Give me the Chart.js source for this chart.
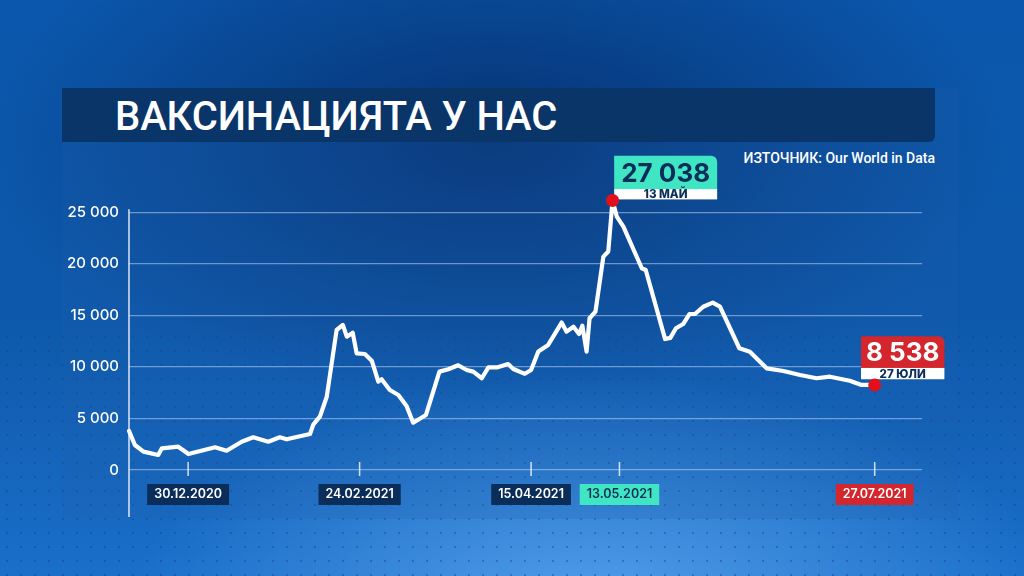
<!DOCTYPE html>
<html lang="bg">
<head>
<meta charset="utf-8">
<title>Ваксинацията у нас</title>
<script src="https://cdn.jsdelivr.net/npm/chart.js@4.4.0/dist/chart.umd.min.js"></script>
<style>
  html, body {
    margin: 0;
    padding: 0;
    width: 1024px;
    height: 576px;
    overflow: hidden;
  }
  body {
    position: relative;
    background:
      radial-gradient(ellipse 45% 40% at 58% 105%, rgba(90, 165, 240, 0.85) 0%, rgba(90, 165, 240, 0) 100%),
      radial-gradient(ellipse 50% 45% at 48% 25%, rgba(4, 38, 95, 0.75) 0%, rgba(4, 38, 95, 0) 100%),
      linear-gradient(180deg, #0b57ad 0%, #0d58aa 55%, #1a6fc9 100%);
  }
  #dots {
    position: absolute;
    left: 0;
    top: 330px;
    width: 1024px;
    height: 246px;
    background-image: radial-gradient(rgba(20, 60, 130, 0.55) 0.8px, transparent 1.2px);
    background-size: 14px 14px;
    opacity: 0.7;
  }
  #panel {
    position: absolute;
    left: 62px;
    top: 88px;
    width: 896px;
    height: 431px;
    background: rgba(30, 95, 175, 0.22);
  }
  #title {
    position: absolute;
    left: 62px;
    top: 88px;
    width: 873px;
    height: 54px;
    background: #0a3569;
    border-bottom-right-radius: 6px;
    color: #fff;
    font-family: Roboto, sans-serif;
    font-weight: 500;
    font-size: 40px;
    line-height: 57px;
    padding-left: 53px;
    box-sizing: border-box;
    letter-spacing: -0.1px;
  }
  #source {
    position: absolute;
    right: 89px;
    top: 150px;
    color: #fff;
    font-family: Roboto, sans-serif;
    font-weight: 500;
    font-size: 14px;
  }
  #chart {
    position: absolute;
    left: 0;
    top: 0;
  }
</style>
</head>
<body>
<div id="dots"></div>
<div id="panel"></div>
<div id="title">ВАКСИНАЦИЯТА У НАС</div>
<div id="source">ИЗТОЧНИК: Our World in Data</div>
<canvas id="chart" width="1024" height="576"></canvas>
<script>
// day offsets along the x axis
const xDays = [
  0, 1.8, 4.4, 8.9, 10.0, 15.0, 18.1, 26.2, 29.7, 34.3,
  37.8, 42.4, 45.9, 48.0, 55.1, 56.1, 58.1, 60.2, 63.2, 65.1,
  66.3, 68.1, 69.3, 71.8, 73.9, 75.9, 76.9, 79.4, 82.0, 84.5,
  86.5, 90.4, 94.5, 97.2, 100.2, 102.8, 104.8, 107.4, 109.4, 112.0,
  115.4, 117.0, 120.5, 122.4, 124.6, 127.6, 131.7, 133.2, 135.3, 137.0,
  138.0, 139.3, 140.2, 142.0, 144.4, 145.9, 147.2, 148.5, 150.5, 156.1,
  157.3, 163.2, 164.8, 166.5, 168.7, 170.6, 172.3, 174.8, 177.7, 179.9,
  185.8, 189.0, 194.1, 199.2, 204.3, 209.3, 213.4, 219.4, 223.0, 227.0
];

// daily vaccine doses
const dailyDoses = [
  3800, 2425, 1780, 1455, 2100, 2260, 1550, 2200, 1870, 2745,
  3170, 2745, 3170, 2980, 3490, 4400, 5170, 7110, 13580, 14070,
  12930, 13320, 11320, 11250, 10600, 8570, 8800, 7760, 7280, 6210,
  4590, 5340, 9540, 9770, 10160, 9700, 9540, 8900, 9960, 9950,
  10280, 9800, 9330, 9700, 11500, 12130, 14300, 13420, 13900, 13200,
  14000, 11480, 14720, 15360, 20700, 21200, 26150, 24570, 23600, 19570,
  19400, 12700, 12820, 13750, 14160, 15130, 15130, 15840, 16230, 15840,
  11810, 11480, 9860, 9600, 9220, 8900, 9050, 8660, 8250, 8250
];

const xTickPositions = [18.0, 70.2, 122.4, 149.3, 227.0];
const xTickLabels = ["30.12.2020", "24.02.2021", "15.04.2021", "13.05.2021", "27.07.2021"];
const yTickValues = [0, 5000, 10000, 15000, 20000, 25000];

const peakCallout = ["27 038", "13 МАЙ"];
const lastCallout = ["8 538", "27 ЮЛИ"];

const peakIndex = dailyDoses.indexOf(Math.max(...dailyDoses));
const lastIndex = dailyDoses.length - 1;

const NAVY = "#0b2d5a";
const TEAL = "#40e6c3";
const RED = "#d3262d";
const DOT = "#e3101c";

const tickBoxColors = [NAVY, NAVY, NAVY, TEAL, RED];
const tickTextColors = ["#fff", "#fff", "#fff", NAVY, "#fff"];

function spaced(v) {
  return String(v).replace(/\B(?=(\d{3})+(?!\d))/g, " ");
}

function drawCallout(ctx, left, bottom, w, topH, stripH, bg, valueColor, texts, valueSize) {
  const top = bottom - stripH - topH;
  ctx.fillStyle = bg;
  ctx.beginPath();
  ctx.roundRect(left, top, w, topH + 1, [0, 6, 0, 0]);
  ctx.fill();
  ctx.fillStyle = "#fff";
  ctx.fillRect(left, bottom - stripH, w, stripH);

  ctx.textAlign = "center";
  ctx.textBaseline = "middle";
  ctx.fillStyle = valueColor;
  ctx.font = "700 " + valueSize + "px Inter";
  ctx.fillText(texts[0], left + w / 2, top + topH / 2 + 1.5);
  ctx.fillStyle = NAVY;
  ctx.font = "800 11.5px Inter";
  ctx.fillText(texts[1], left + w / 2, bottom - stripH / 2 + 0.5);
}

const decorPlugin = {
  id: "decor",
  beforeDatasetsDraw(chart) {
    const { ctx, chartArea, scales } = chart;
    const x = scales.x;
    const y = scales.y;
    const y0 = y.getPixelForValue(0);
    ctx.save();

    // vertical axis line, running below the plot
    ctx.strokeStyle = "rgba(255,255,255,0.85)";
    ctx.lineWidth = 1.5;
    ctx.beginPath();
    ctx.moveTo(chartArea.left, y.getPixelForValue(25000) - 3);
    ctx.lineTo(chartArea.left, 517);
    ctx.stroke();

    // date tick marks crossing the zero line
    ctx.strokeStyle = "rgba(255,255,255,0.8)";
    ctx.beginPath();
    xTickPositions.forEach(v => {
      const px = x.getPixelForValue(v);
      ctx.moveTo(px, y0 - 8);
      ctx.lineTo(px, y0 + 6);
    });
    ctx.stroke();

    // callouts next to the highlighted points
    const meta = chart.getDatasetMeta(0);
    const pk = meta.data[peakIndex];
    const ls = meta.data[lastIndex];
    drawCallout(ctx, pk.x + 1.6, pk.y - 1, 103, 33.3, 10.3, TEAL, NAVY, peakCallout, 26);
    drawCallout(ctx, ls.x - 13.7, ls.y - 5.7, 83.4, 31.7, 11.3, RED, "#fff", lastCallout, 26);
    ctx.restore();
  }
};

new Chart(document.getElementById("chart"), {
  type: "line",
  data: {
    datasets: [{
      data: xDays.map((d, i) => ({ x: d, y: dailyDoses[i] })),
      borderColor: "#ffffff",
      borderWidth: 4.2,
      borderJoinStyle: "round",
      borderCapStyle: "round",
      tension: 0,
      fill: false,
      clip: false,
      pointRadius: ctx => (ctx.dataIndex === peakIndex || ctx.dataIndex === lastIndex ? 6.5 : 0),
      pointHoverRadius: 0,
      pointBackgroundColor: DOT,
      pointBorderWidth: 0
    }]
  },
  plugins: [decorPlugin],
  options: {
    responsive: false,
    devicePixelRatio: 1,
    animation: false,
    layout: { padding: { top: 186.5, right: 102, left: 0, bottom: 0 } },
    plugins: {
      legend: { display: false },
      tooltip: { enabled: false }
    },
    scales: {
      x: {
        type: "linear",
        min: 0,
        max: 241.4,
        afterBuildTicks: scale => {
          scale.ticks = xTickPositions.map(v => ({ value: v }));
        },
        afterFit: scale => { scale.height = 106; },
        grid: { display: false },
        border: { display: false },
        ticks: {
          autoSkip: false,
          maxRotation: 0,
          padding: 9,
          callback: (value, index) => xTickLabels[index],
          font: { family: "Inter", weight: "600", size: 12.5 },
          color: ctx => tickTextColors[ctx.index],
          showLabelBackdrop: true,
          backdropColor: ctx => tickBoxColors[ctx.index],
          backdropPadding: { left: 7, right: 7, top: 3, bottom: 3 }
        }
      },
      y: {
        min: 0,
        max: 27500,
        afterBuildTicks: scale => {
          scale.ticks = yTickValues.map(v => ({ value: v }));
        },
        afterFit: scale => { scale.width = 129; },
        grid: {
          color: "rgba(200,222,255,0.5)",
          lineWidth: 1.2,
          drawTicks: false
        },
        border: { display: false },
        ticks: {
          padding: 10,
          color: "#ffffff",
          font: { family: "Inter", weight: "500", size: 15 },
          callback: v => spaced(v)
        }
      }
    }
  }
});
</script>
</body>
</html>
